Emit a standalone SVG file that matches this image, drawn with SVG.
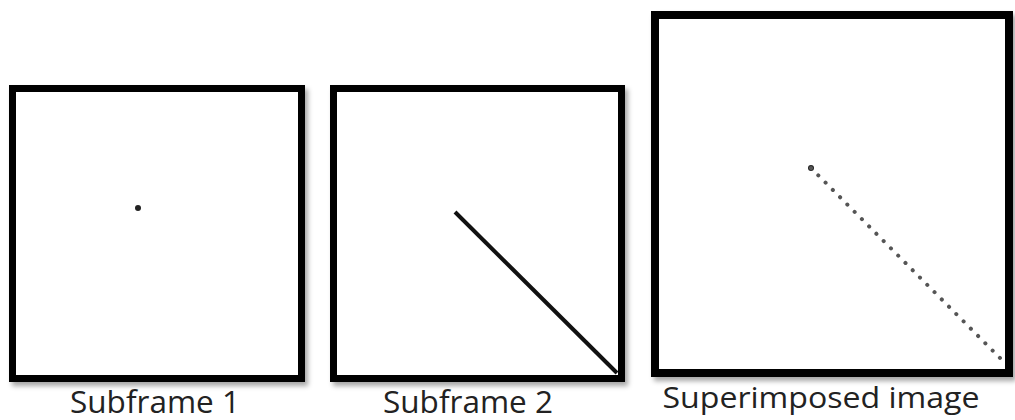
<svg xmlns="http://www.w3.org/2000/svg" width="1015" height="420" viewBox="0 0 1015 420">
<defs>
<filter id="sh" x="-5%" y="-5%" width="115%" height="115%">
<feDropShadow dx="3" dy="4" stdDeviation="2.5" flood-color="#000" flood-opacity="0.35"/>
</filter>
<style>
.frame{fill:#fff;stroke:#000;filter:url(#sh)}
.lbl{font-family:"Open Sans","Noto Sans",sans-serif;fill:#222;text-anchor:middle}
</style>
</defs>
<rect width="1015" height="420" fill="#fff"/>
<g id="subframe1">
<rect class="frame" x="12.5" y="88.5" width="289" height="290" stroke-width="7"/>
<circle cx="138" cy="208" r="3" fill="#222"/>
<text class="lbl" x="155" y="413" font-size="31" textLength="170" lengthAdjust="spacingAndGlyphs">Subframe 1</text>
</g>
<g id="subframe2">
<rect class="frame" x="333.5" y="88.5" width="288" height="290" stroke-width="7"/>
<line x1="455" y1="212" x2="617" y2="373" stroke="#111" stroke-width="4"/>
<text class="lbl" x="468" y="413" font-size="31" textLength="170" lengthAdjust="spacingAndGlyphs">Subframe 2</text>
</g>
<g id="superimposed">
<rect class="frame" x="655" y="15" width="354" height="358" stroke-width="8"/>
<circle cx="811" cy="168" r="3" fill="#222"/>
<line x1="811" y1="168" x2="1004" y2="362" stroke="#555" stroke-width="4" stroke-linecap="round" stroke-dasharray="0.1 10.2"/>
<text class="lbl" x="821" y="408" font-size="30" textLength="317" lengthAdjust="spacingAndGlyphs">Superimposed image</text>
</g>
<g id="connectors"></g>
</svg>
